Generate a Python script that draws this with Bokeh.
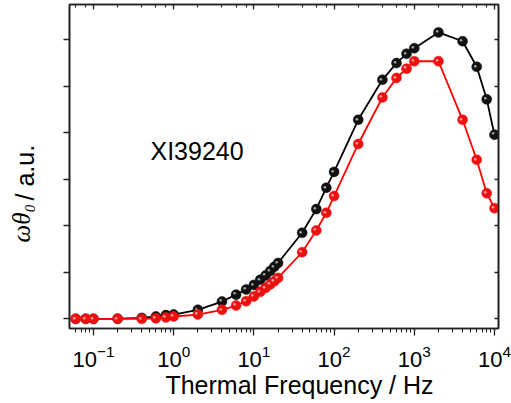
import math
from bokeh.plotting import figure
from bokeh.models import Range1d, LogAxis, LinearAxis, FixedTicker, LogTicker, Label
from bokeh.core.properties import value
from bokeh.embed import file_html
from bokeh.resources import INLINE

# ---- data ----
freq = [0.06, 0.08, 0.1, 0.2, 0.4, 0.6, 0.8, 1, 2, 4, 6, 8, 10, 12, 14, 16, 18, 20,
        40, 60, 80, 100, 200, 400, 600, 800, 1000, 2000, 4000, 6000, 8000, 10000]
black_vals = [0.0, 0.0, 0.0, 0.002, 0.01, 0.025, 0.04, 0.046, 0.097, 0.186, 0.26, 0.315,
              0.365, 0.42, 0.466, 0.515, 0.56, 0.60, 0.925, 1.18, 1.41, 1.58, 2.14, 2.57,
              2.75, 2.85, 2.91, 3.08, 2.985, 2.71, 2.36, 1.98]
red_vals = [0.0, 0.0, 0.0, 0.0, 0.0, 0.005, 0.015, 0.025, 0.046, 0.097, 0.143, 0.19,
            0.24, 0.29, 0.333, 0.37, 0.405, 0.44, 0.716, 0.95, 1.14, 1.32, 1.88, 2.38,
            2.59, 2.69, 2.77, 2.77, 2.14, 1.71, 1.35, 1.19]
y_ticks = [0, 0.5, 1.0, 1.5, 2.0, 2.5, 3.0]
sample_label = "XI39240"
x_title = "Thermal Frequency / Hz"

SANS = "Liberation Sans"
SERIF = "Liberation Serif"

p = figure(width=511, height=403, x_axis_type="log",
           x_range=Range1d(0.05023, 11217), y_range=Range1d(-0.104, 3.38),
           output_backend="svg", toolbar_location=None,
           min_border_left=69, min_border_right=13, min_border_top=4, min_border_bottom=75)
p.grid.visible = False
p.outline_line_color = "#222222"
p.outline_line_width = 1.6
p.background_fill_color = "white"
p.border_fill_color = "white"

AX = "#222222"
HIDE = dict(major_label_text_font_size="1px", major_label_text_color=None,
            major_label_standoff=0)
# bottom axis with library tick labels
xa = p.xaxis[0]
xa.update(axis_line_color=AX, axis_line_width=1.6, major_tick_out=7, major_tick_in=0,
          minor_tick_out=4, minor_tick_in=0, major_tick_line_color=AX,
          minor_tick_line_color=AX, major_tick_line_width=1.3, minor_tick_line_width=1.1,
          major_label_text_font=SANS, major_label_text_font_size="22px",
          major_label_text_color="black", major_label_standoff=9)

# left axis
ya = p.yaxis[0]
ya.update(ticker=FixedTicker(ticks=y_ticks), axis_line_color=AX, axis_line_width=1.6,
          major_tick_out=6, major_tick_in=0, minor_tick_out=0, minor_tick_in=0,
          major_tick_line_color=AX, major_tick_line_width=1.3, **HIDE)

# top axis (ticks inward)
ta = LogAxis(ticker=LogTicker(), axis_line_color=AX, axis_line_width=1.6,
             major_tick_in=5, major_tick_out=0, minor_tick_in=3, minor_tick_out=0,
             major_tick_line_color=AX, minor_tick_line_color=AX,
             major_tick_line_width=1.3, minor_tick_line_width=1.1, **HIDE)
p.add_layout(ta, "above")

# right axis (ticks inward)
ra = LinearAxis(ticker=FixedTicker(ticks=y_ticks), axis_line_color=AX, axis_line_width=1.6,
                major_tick_in=4, major_tick_out=0, minor_tick_in=0, minor_tick_out=0,
                major_tick_line_color=AX, major_tick_line_width=1.3, **HIDE)
p.add_layout(ra, "right")

# ---- data series ----
def series(vals, line_col, ball_col, hi_col):
    p.line(freq, vals, line_color=line_col, line_width=1.8)
    p.scatter(freq, vals, marker="circle", size=10, fill_color=ball_col,
              line_color=ball_col, line_width=0.5)
    p.text(freq, vals, text=value("\u25CF"), text_font_size="6px",
           text_color=hi_col, text_align="center", text_baseline="middle",
           x_offset=-1.5, y_offset=-1.2)

series(black_vals, "black", "#111111", "#a8a8a8")
series(red_vals, "#ff0000", "#ee1010", "#ffa8a8")

# ---- x title (side panel, not clipped) ----
p.add_layout(Label(x=230, y=13, x_units="screen", y_units="screen", text=x_title,
                   text_align="center", text_baseline="alphabetic",
                   text_font=SANS, text_font_size="25px", text_color="black"), "below")

# ---- sample label ----
p.add_layout(Label(x=81, y=178, x_units="screen", y_units="screen", text=sample_label,
                   text_align="left", text_baseline="alphabetic",
                   text_font=SANS, text_font_size="25px", text_color="black"))

# ---- y title: omega theta_0 / a.u. (rotated, side panels) ----
ang = math.pi / 2
p.add_layout(Label(x=-15, y=86, x_units="screen", y_units="screen", text="\u03C9\u03B8\u2080",
                   angle=ang, text_align="left", text_baseline="alphabetic",
                   text_font=SERIF, text_font_style="italic", text_font_size="25px",
                   text_color="black"), "left")
p.add_layout(Label(x=16, y=128, x_units="screen", y_units="screen", text="/ a.u.",
                   angle=ang, text_align="left", text_baseline="alphabetic",
                   text_font=SANS, text_font_size="25px", text_color="black"), "left")

open("out.html", "w").write(file_html(p, INLINE))
